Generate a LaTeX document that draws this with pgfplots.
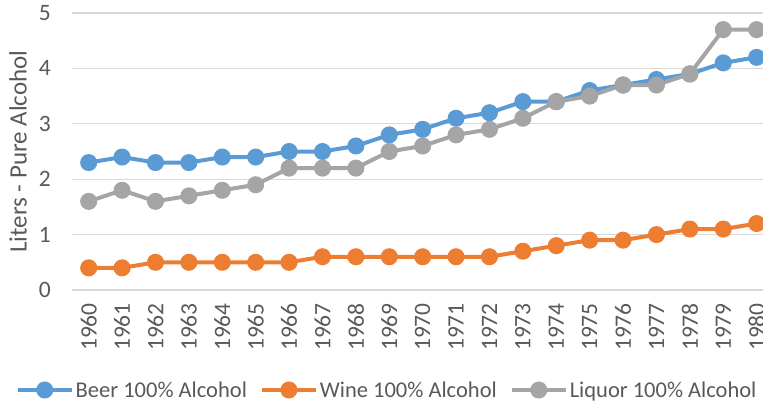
\documentclass[border=0pt]{standalone}
\usepackage{pgfplots}
\pgfplotsset{compat=1.18}
\usepackage{fontspec}
\setmainfont{Carlito}
\definecolor{beer}{HTML}{5B9BD5}
\definecolor{wine}{HTML}{ED7D31}
\definecolor{liquor}{HTML}{A5A5A5}
\definecolor{txt}{HTML}{595959}
\definecolor{grd}{HTML}{D9D9D9}
\begin{document}
\begin{tikzpicture}
\useasboundingbox (0,0) rectangle (763pt,402pt);
\clip (0,0) rectangle (763pt,402pt);
\begin{axis}[
  at={(72pt,112pt)}, anchor=south west,
  scale only axis, width=691pt, height=277pt,
  xmin=-0.5, xmax=20.19, ymin=0, ymax=5,
  xtick={0,...,20},
  xticklabels={1960,1961,1962,1963,1964,1965,1966,1967,1968,1969,1970,1971,1972,1973,1974,1975,1976,1977,1978,1979,1980},
  ytick={0,1,2,3,4,5},
  axis line style={draw=none},
  major tick length=0pt,
  ymajorgrids, major grid style={draw=grd, line width=1.3pt},
  /pgf/number format/assume math mode=true,
  tick label style={font=\fontsize{23.5}{28}\selectfont, text=txt},
  xticklabel style={yshift=-13pt, rotate=90, anchor=east, inner sep=0pt},
  yticklabel style={anchor=east, inner sep=0pt, xshift=-21pt},
  ylabel={Liters - Pure Alcohol},
  ylabel style={at={(axis description cs:-0.078,0.5)}, anchor=center, font=\fontsize{25}{30}\selectfont, text=txt},
  clip=false,
  legend columns=3,
  legend style={draw=none, fill=none, font=\fontsize{22.5}{27}\selectfont, text=txt,
    at={(axis description cs:0.456,-0.361)}, anchor=center, inner xsep=0pt,
    /tikz/every even column/.append style={column sep=11pt},
    nodes={inner xsep=2pt}},
  legend image code/.code={\draw[mark repeat=2,mark phase=2,#1] plot coordinates {(0pt,0pt) (27pt,0pt) (54pt,0pt)};},
  every axis plot/.append style={line width=4pt, mark=*, mark size=6.5pt, mark options={solid, line width=0pt}},
]
\addplot[beer, mark options={fill=beer, draw=beer}] coordinates {
(0,2.3)(1,2.4)(2,2.3)(3,2.3)(4,2.4)(5,2.4)(6,2.5)(7,2.5)(8,2.6)(9,2.8)(10,2.9)
(11,3.1)(12,3.2)(13,3.4)(14,3.4)(15,3.6)(16,3.7)(17,3.8)(18,3.9)(19,4.1)(20,4.2)};
\addlegendentry{Beer 100\% Alcohol}
\addplot[wine, mark options={fill=wine, draw=wine}] coordinates {
(0,0.4)(1,0.4)(2,0.5)(3,0.5)(4,0.5)(5,0.5)(6,0.5)(7,0.6)(8,0.6)(9,0.6)(10,0.6)
(11,0.6)(12,0.6)(13,0.7)(14,0.8)(15,0.9)(16,0.9)(17,1.0)(18,1.1)(19,1.1)(20,1.2)};
\addlegendentry{Wine 100\% Alcohol}
\addplot[liquor, mark options={fill=liquor, draw=liquor}] coordinates {
(0,1.6)(1,1.8)(2,1.6)(3,1.7)(4,1.8)(5,1.9)(6,2.2)(7,2.2)(8,2.2)(9,2.5)(10,2.6)
(11,2.8)(12,2.9)(13,3.1)(14,3.4)(15,3.5)(16,3.7)(17,3.7)(18,3.9)(19,4.7)(20,4.7)};
\addlegendentry{Liquor 100\% Alcohol}
\end{axis}
\end{tikzpicture}
\end{document}
